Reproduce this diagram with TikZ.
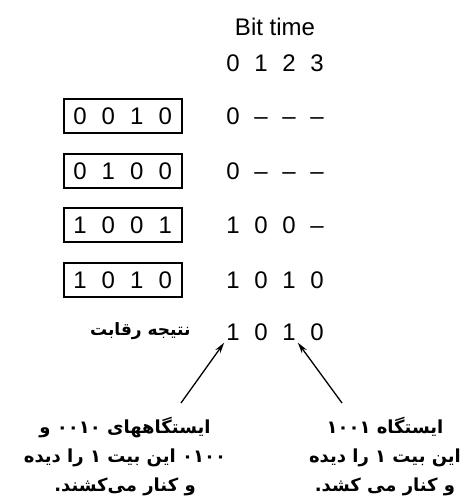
\documentclass[tikz,border=0pt]{standalone}
\usepackage{fontspec}
\setmainfont{Liberation Sans}
\newfontfamily\farsi[Script=Arabic]{DejaVu Sans}
\TeXXeTstate=1
\usetikzlibrary{arrows.meta}

\begin{document}
\begin{tikzpicture}[x=1pt,y=-1pt,>={Stealth[length=11pt,width=6pt]},
                    bit/.style={font=\fontsize{24}{24}\selectfont,inner sep=2pt,text height=17pt,text depth=0pt},
                    reg box/.style={draw,line width=1.1pt,minimum width=118pt,minimum height=34pt},
                    note/.style={font=\farsi\bfseries\fontsize{18}{29}\selectfont,align=center}]
  \useasboundingbox (0,0) rectangle (468,501);
  \node[font=\fontsize{24}{24}\selectfont] (title) at (275,27) {Bit time};
  \foreach \t in {0,...,3}
    \node[bit] (t-\t) at (233+28*\t,63) {\t};
  % station registers and the bits they put on the bus
  \foreach \r/\station/\bus/\y in {1/{0,0,1,0}/{0,–,–,–}/116,2/{0,1,0,0}/{0,–,–,–}/171,
                                  3/{1,0,0,1}/{1,0,0,–}/225,4/{1,0,1,0}/{1,0,1,0}/280} {
    \node[reg box] (s\r) at (123,\y) {};
    \foreach \b [count=\i from 0] in \station
      \node[bit] (s\r-\i) at (80+28.4*\i,\y) {\b};
    \foreach \b [count=\i from 0] in \bus
      \node[bit] (o\r-\i) at (233+28*\i,\y) {\b};
  }
  \foreach \b [count=\i from 0] in {1,0,1,0}
    \node[bit] (r-\i) at (233+28*\i,332) {\b};
  \node[note,font=\farsi\bfseries\fontsize{17}{29}\selectfont,anchor=east] (result) at (194,331)
    {\beginR نتیجه رقابت\endR};
  \node[note] (lnote) at (125,457)
    {\beginR ایستگاههای ۰۰۱۰ و\endR\\\beginR ۰۱۰۰ این بیت ۱ را دیده\endR\\\beginR و کنار می‌کشند.\endR};
  \node[note] (rnote) at (385,457)
    {\beginR ایستگاه ۱۰۰۱\endR\\\beginR این بیت ۱ را دیده\endR\\\beginR و کنار می کشد.\endR};
  \coordinate (ltail) at (181,403);
  \coordinate (rtail) at (342,403);
  \path[->,line width=1.3pt]
    (ltail) edge (r-0.south west)
    (rtail) edge (r-2.south east);
\end{tikzpicture}
\end{document}
